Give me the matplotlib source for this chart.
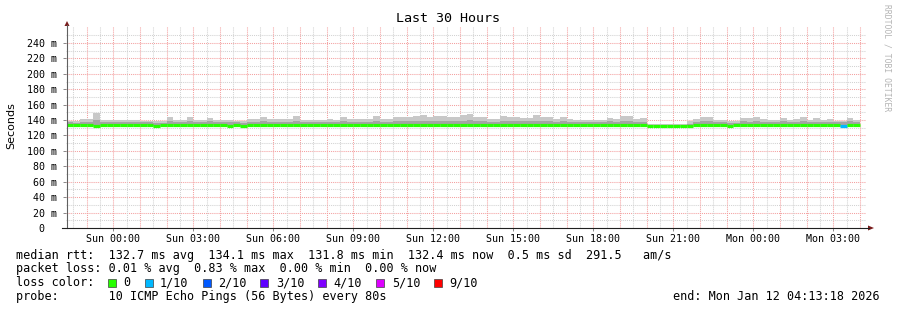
import numpy as np
import matplotlib.pyplot as plt
from matplotlib.patches import Rectangle, Polygon

W, H = 897, 310
MONO = 'DejaVu Sans Mono'

# time axis in hours relative to Sun 00:00
t_start = -1.7783   # Sat 22:13:18
t_end = 28.2217     # Mon 04:13:18
bin_first = -1.75   # first 15 minute bin
bin_width = 0.25

# smoke and median per bin, in ms
smoke_hi = [
    139.0, 138.4, 141.4, 141.4, 149.6, 140.5, 140.5, 140.5, 140.5, 140.5,
    140.5, 139.2, 139.0, 138.4, 138.4, 144.0, 140.0, 140.0, 144.0, 139.7,
    140.0, 142.7, 140.5, 140.5, 140.5, 139.0, 139.0, 141.4, 141.4, 144.0,
    141.4, 141.4, 141.4, 141.4, 145.3, 140.5, 140.0, 140.5, 139.7, 141.0,
    140.5, 144.0, 141.0, 141.4, 141.4, 141.4, 145.3, 141.4, 141.4, 143.6,
    143.6, 143.6, 145.3, 147.0, 143.6, 145.3, 145.3, 143.6, 143.6, 146.3,
    147.9, 143.6, 143.6, 141.4, 141.4, 145.3, 143.6, 143.6, 142.7, 142.7,
    147.0, 143.6, 143.6, 141.4, 144.0, 141.4, 140.5, 140.5, 140.5, 140.5,
    140.5, 142.7, 141.4, 145.3, 145.3, 141.4, 142.7, 135.4, 135.4, 135.4,
    135.4, 135.4, 135.4, 138.4, 141.4, 143.5, 143.5, 140.5, 140.5, 138.4,
    138.4, 142.7, 142.7, 144.0, 141.4, 139.7, 139.7, 142.7, 139.7, 141.4,
    143.6, 140.5, 142.7, 139.7, 141.4, 139.2, 139.2, 142.7, 140.5,
]
smoke_mid = [
    137.0, 136.8, 137.8, 137.8, 139.5, 137.8, 137.5, 137.8, 138.0, 137.5,
    137.5, 137.0, 137.0, 136.6, 136.8, 138.6, 137.2, 137.4, 138.5, 137.0,
    137.2, 138.2, 137.5, 137.4, 137.6, 137.0, 136.8, 137.8, 138.0, 138.6,
    137.8, 137.6, 138.0, 137.8, 139.0, 137.5, 137.2, 137.6, 137.0, 137.8,
    137.6, 138.6, 137.8, 138.0, 137.6, 137.8, 139.0, 137.8, 138.0, 138.6,
    138.8, 138.4, 139.0, 139.4, 138.6, 139.0, 138.8, 138.4, 138.6, 139.2,
    139.6, 138.6, 138.8, 138.0, 137.8, 139.0, 138.6, 138.4, 138.2, 138.4,
    139.4, 138.6, 138.4, 137.8, 138.6, 137.8, 137.4, 137.6, 137.5, 137.4,
    137.6, 138.2, 137.8, 139.0, 138.8, 137.8, 138.0, 131.8, 131.8, 131.8,
    131.8, 131.9, 131.9, 135.0, 137.6, 138.4, 138.6, 137.6, 137.4, 136.8,
    136.6, 138.2, 138.0, 138.6, 137.8, 137.2, 137.4, 138.2, 137.2, 137.8,
    138.4, 137.5, 138.0, 137.2, 137.8, 137.0, 137.0, 138.2, 137.6,
]
median = [
    133.0, 133.2, 133.0, 133.0, 132.8, 134.0, 134.0, 134.1, 134.0, 133.8,
    133.2, 133.0, 133.0, 132.8, 133.0, 133.2, 133.0, 133.0, 133.3, 133.0,
    133.2, 133.4, 133.0, 133.0, 132.9, 133.0, 132.8, 133.0, 133.2, 133.3,
    133.0, 133.2, 133.0, 133.0, 133.4, 133.2, 133.0, 133.1, 133.0, 133.2,
    133.4, 133.0, 133.1, 133.3, 133.0, 133.0, 133.4, 133.2, 133.0, 133.2,
    133.4, 133.6, 133.4, 133.2, 133.2, 133.4, 133.3, 133.0, 133.2, 133.4,
    133.3, 133.2, 134.0, 133.6, 133.2, 133.4, 133.2, 133.0, 133.2, 133.4,
    133.3, 133.0, 133.2, 133.0, 133.2, 133.0, 133.0, 133.2, 133.0, 133.0,
    133.2, 133.4, 133.2, 133.0, 133.4, 133.2, 133.0, 131.8, 131.8, 131.8,
    131.8, 131.9, 131.9, 132.4, 133.2, 133.4, 133.2, 133.0, 133.0, 132.8,
    133.0, 133.2, 133.2, 133.4, 133.0, 133.0, 133.2, 133.4, 133.0, 133.2,
    133.3, 133.0, 133.2, 133.0, 133.2, 133.0, 132.8, 133.2, 133.0,
]
smoke_lo = [
    130.4, 130.6, 130.8, 130.6, 130.5, 131.0, 131.2, 131.0, 131.0, 130.8,
    130.8, 130.6, 130.8, 130.7, 130.8, 130.6, 130.9, 130.8, 130.6, 130.8,
    130.7, 130.6, 130.8, 130.9, 130.6, 130.8, 130.7, 130.6, 130.8, 130.6,
    130.8, 130.7, 130.9, 130.6, 130.8, 130.7, 130.6, 130.8, 130.7, 130.9,
    130.6, 130.8, 130.7, 130.6, 130.8, 130.7, 130.6, 130.8, 130.9, 130.7,
    130.8, 130.9, 130.7, 130.6, 130.8, 130.7, 130.9, 130.6, 130.8, 130.7,
    130.8, 130.6, 131.0, 130.8, 130.7, 130.8, 130.6, 130.7, 130.8, 130.9,
    130.7, 130.6, 130.8, 130.7, 130.6, 130.8, 130.7, 130.9, 130.6, 130.8,
    130.7, 130.8, 130.6, 130.7, 130.8, 130.6, 130.7, 131.0, 131.0, 131.0,
    131.0, 131.0, 131.0, 130.8, 130.7, 130.8, 130.6, 130.7, 130.8, 130.6,
    130.7, 130.8, 130.6, 130.8, 130.7, 130.6, 130.8, 130.7, 130.6, 130.8,
    130.7, 130.6, 130.8, 130.7, 130.6, 130.5, 130.5, 130.7, 130.6,
]
# lost pings (out of 10) per bin
loss = [0] * 116 + [1, 0, 0]

loss_labels = ['0', '1/10', '2/10', '3/10', '4/10', '5/10', '9/10']
loss_counts = [0, 1, 2, 3, 4, 5, 9]
loss_colors = ['#26ff00', '#00b8ff', '#0059ff', '#5e00ff', '#7e00ff', '#dd00ff', '#ff0000']

tick_hours = [0, 3, 6, 9, 12, 15, 18, 21, 24, 27]
tick_labels = ['Sun 00:00', 'Sun 03:00', 'Sun 06:00', 'Sun 09:00', 'Sun 12:00',
               'Sun 15:00', 'Sun 18:00', 'Sun 21:00', 'Mon 00:00', 'Mon 03:00']
y_ticks = list(range(0, 241, 20))

stats_rtt = ['132.7 ms avg', '134.1 ms max', '131.8 ms min', '132.4 ms now', '0.5 ms sd', '291.5   am/s']
stats_loss = ['0.01 % avg', '0.83 % max', '0.00 % min', '0.00 % now']
probe_text = '10 ICMP Echo Pings (56 Bytes) every 80s'
end_text = 'end: Mon Jan 12 04:13:18 2026'


def px(x, y):
    """pixel (from top left) to figure coords"""
    return x / W, 1 - y / H


fig = plt.figure(figsize=(W / 100, H / 100), dpi=100)
fig.patch.set_facecolor('white')
ax = fig.add_axes([66 / W, (H - 228) / H, 800 / W, 202 / H])
ax.set_xlim(t_start, t_end)
ax.set_ylim(0, 262)
for s in ax.spines.values():
    s.set_visible(False)

# grid
for v in range(10, 251, 10):
    major = v % 20 == 0
    ax.axhline(v, color='#f4a0a0' if major else '#d2d2d2', lw=0.75,
               ls=(0, (1, 1)), zorder=0)
h = np.ceil(t_start * 2) / 2
while h < t_end:
    major = abs(h - round(h)) < 1e-6
    ax.axvline(h, color='#f4a0a0' if major else '#d2d2d2', lw=0.75,
               ls=(0, (1, 1)), zorder=0)
    h += 0.5

# smoke
edges = bin_first + bin_width * np.arange(len(smoke_hi) + 1)
ax.stairs(smoke_hi, edges, baseline=smoke_lo, fill=True, color='#c8c8c8', lw=0, zorder=2)
ax.stairs(smoke_mid, edges, baseline=median, fill=True, color='#a4a4a4', lw=0, zorder=3)

# median coloured by loss
col_of = dict(zip(loss_counts, loss_colors))
ax.hlines(median, edges[:-1], edges[1:], colors=[col_of[l] for l in loss],
          lw=2.3, capstyle='butt', zorder=4)

# ticks
ax.set_yticks(y_ticks)
ax.set_yticklabels([f'{v} m' if v else '0  ' for v in y_ticks],
                   family=MONO, fontsize=7.2)
ax.set_xticks(tick_hours)
ax.set_xticklabels(tick_labels, family=MONO, fontsize=7.2)
ax.tick_params(axis='y', length=2.5, width=0.7, color='#888888', pad=4)
ax.tick_params(axis='x', length=2, width=0.7, color='#888888', pad=2)

# axis lines and arrows
fig.add_artist(plt.Line2D([67 / W, 67 / W], [1 - 228 / H, 1 - 25 / H], color='#606060', lw=0.8))
fig.add_artist(plt.Line2D([62 / W, 869 / W], [1 - 228 / H, 1 - 228 / H], color='#202020', lw=0.8))
fig.add_artist(Polygon([px(64.5, 26), px(69.5, 26), px(67, 21)], closed=True,
                       color='#7a1c1c', lw=0))
fig.add_artist(Polygon([px(868, 225.5), px(868, 230.5), px(874, 228)], closed=True,
                       color='#7a1c1c', lw=0))

# labels
fig.text(*px(448, 19), 'Last 30 Hours', family=MONO, fontsize=9.6, ha='center', va='center')
fig.text(*px(11, 126), 'Seconds', family='DejaVu Sans', fontsize=8, rotation=90,
         ha='center', va='center')
fig.text(*px(887, 4), 'RRDTOOL / TOBI OETIKER', family=MONO, fontsize=5.8, rotation=270,
         ha='center', va='top', color='#b4b4b4')

# legend block
fs = 8.5
fig.text(*px(16, 255), 'median rtt:  ' + '  '.join(stats_rtt), family=MONO, fontsize=fs, va='center')
fig.text(*px(16, 268.5), 'packet loss: ' + '  '.join(stats_loss), family=MONO, fontsize=fs, va='center')
fig.text(*px(16, 282.5), 'loss color:', family=MONO, fontsize=fs, va='center')
fig.text(*px(16, 296.5), 'probe:       ' + probe_text, family=MONO, fontsize=fs, va='center')
fig.text(*px(880, 296.5), end_text, family=MONO, fontsize=fs, va='center', ha='right')

cx = 108
for lab, col in zip(loss_labels, loss_colors):
    x0, y0 = px(cx, 286.5)
    fig.add_artist(Rectangle((x0, y0), 8 / W, 8 / H, facecolor=col, edgecolor='#404040', lw=0.5))
    fig.text(*px(cx + 15.5, 282.5), lab, family=MONO, fontsize=fs, va='center')
    cx = cx + 15.5 + 7.1 * len(lab) + 14

fig.savefig('out.png', dpi=100)
